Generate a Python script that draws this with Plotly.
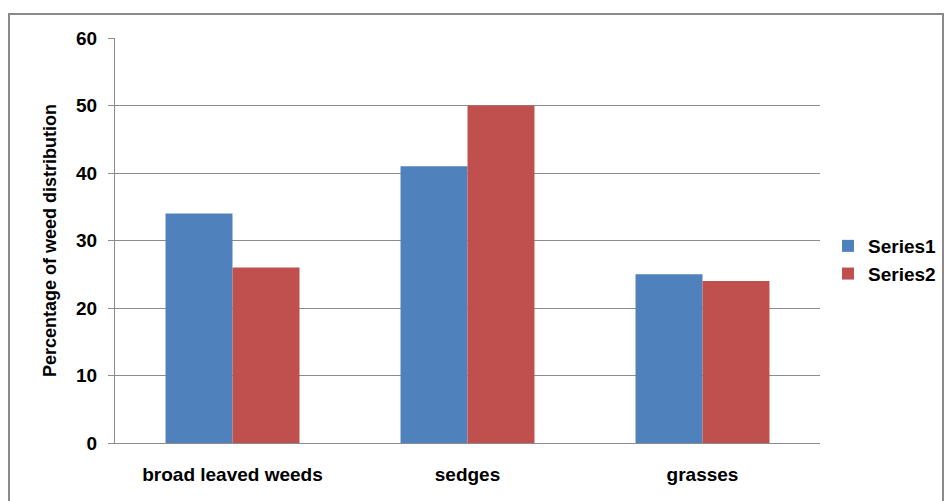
import plotly.graph_objects as go

categories = ["broad leaved weeds", "sedges", "grasses"]
series1 = [34, 41, 25]
series2 = [26, 50, 24]
y_ticks = [0, 10, 20, 30, 40, 50, 60]

W, H = 944, 501
L, R, T, B = 115, 124, 38, 58
pw, ph = W - L - R, H - T - B

fam = "Liberation Sans, Arial, sans-serif"
grid = "#8c8c8c"

fig = go.Figure()
fig.add_trace(go.Bar(name="<b>Series1</b>", x=categories, y=series1,
                     marker=dict(color="#4F81BD", line=dict(width=0))))
fig.add_trace(go.Bar(name="<b>Series2</b>", x=categories, y=series2,
                     marker=dict(color="#C0504D", line=dict(width=0))))

# outer chart border
fig.add_shape(type="rect", xref="paper", yref="paper",
              x0=(9 - L) / pw, x1=(943 - L) / pw,
              y0=-(H + 10 - (T + ph)) / ph, y1=1 + (T - 14) / ph,
              line=dict(color="#8a8a8a", width=2), fillcolor="rgba(0,0,0,0)", layer="below")

fig.update_layout(
    width=W, height=H,
    margin=dict(l=L, r=R, t=T, b=B, autoexpand=False),
    paper_bgcolor="white", plot_bgcolor="white",
    barmode="group", bargap=0.43, bargroupgap=0,
    font=dict(family=fam, size=19, color="#000"),
    showlegend=True,
    legend=dict(x=(828 - L) / pw, y=(T + ph - 260) / ph, xanchor="left", yanchor="middle",
                font=dict(family=fam, size=19, color="#000"),
                bgcolor="rgba(0,0,0,0)", itemwidth=30),
    xaxis=dict(showgrid=False, showline=True, linecolor=grid, linewidth=1,
               ticks="", ticklabelstandoff=14,
               tickprefix="<b>", ticksuffix="</b>",
               tickfont=dict(family=fam, size=19, color="#000")),
    yaxis=dict(range=[0, 60], tickvals=y_ticks, ticktext=[f"<b>{v}</b>" for v in y_ticks],
               showgrid=True, gridcolor=grid, gridwidth=1,
               showline=True, linecolor=grid, linewidth=1, zeroline=False,
               ticks="outside", ticklen=6, tickcolor=grid, ticklabelstandoff=7,
               tickfont=dict(family=fam, size=19, color="#000"),
               title=dict(text="<b>Percentage of weed distribution</b>", standoff=14,
                          font=dict(family=fam, size=18, color="#000"))),
)

fig.write_html("out.html")
